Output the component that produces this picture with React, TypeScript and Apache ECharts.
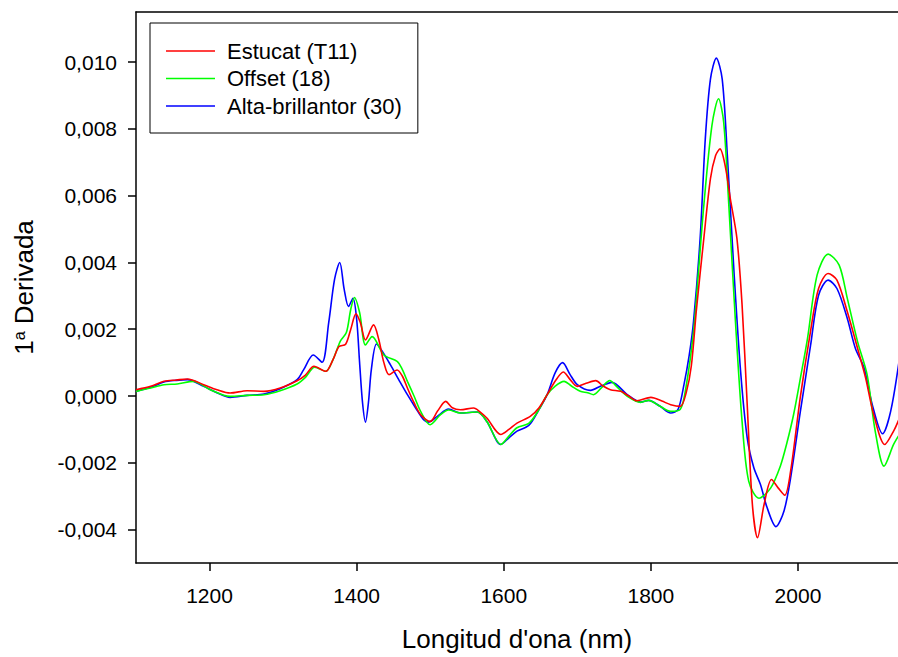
import React, { useEffect, useRef } from "react";
import * as echarts from "echarts";

// Wavelength (nm), 1st derivative value
const estucat: [number, number][] = [
  [1100, 0.00019], [1120, 0.00029], [1138, 0.00044], [1155, 0.00048], [1170, 0.00051], [1192, 0.00034],
  [1210, 0.00019], [1228, 0.00009], [1251, 0.00016], [1274, 0.00014], [1296, 0.00024], [1319, 0.00046],
  [1330, 0.00062], [1342, 0.00089], [1358, 0.00074], [1368, 0.0011], [1376, 0.00148], [1385, 0.00155],
  [1392, 0.002], [1399, 0.00246], [1405, 0.0022], [1412, 0.00168], [1423, 0.00213], [1430, 0.0017],
  [1437, 0.001], [1444, 0.00064], [1455, 0.00078], [1462, 0.0006], [1469, 0.00024], [1478, -0.0002],
  [1487, -0.00056], [1500, -0.00076], [1510, -0.00045], [1521, -0.00016], [1530, -0.00035], [1541, -0.00041],
  [1559, -0.00036], [1568, -0.00048], [1577, -0.00066], [1596, -0.00115], [1607, -0.001], [1618, -0.00081],
  [1636, -0.00061], [1648, -0.00035], [1659, 0.00004], [1670, 0.00045], [1681, 0.00072], [1690, 0.0005],
  [1700, 0.00029], [1712, 0.00038], [1725, 0.00046], [1735, 0.0003], [1745, 0.00019], [1759, 0.00014],
  [1770, 0.0], [1781, -0.00014], [1800, -0.00004], [1815, -0.00015], [1827, -0.00026], [1840, -0.00031],
  [1848, 0.0001], [1855, 0.0009], [1862, 0.0026], [1872, 0.00472], [1881, 0.00651], [1888, 0.0072],
  [1894, 0.0074], [1901, 0.0069], [1908, 0.00591], [1917, 0.00472], [1924, 0.00273], [1931, -0.00026],
  [1938, -0.00324], [1945, -0.00424], [1954, -0.00324], [1964, -0.0025], [1973, -0.00275], [1982, -0.00297],
  [1990, -0.00225], [2003, -0.00006], [2017, 0.00193], [2028, 0.00322], [2041, 0.00367], [2053, 0.00347],
  [2067, 0.00253], [2081, 0.00143], [2092, 0.00054], [2103, -0.00056], [2118, -0.00145], [2130, -0.00105],
  [2138, -0.00066],
];

const offset: [number, number][] = [
  [1100, 0.00014], [1120, 0.00024], [1138, 0.00034], [1156, 0.00036], [1178, 0.00044], [1201, 0.00019],
  [1228, -0.00001], [1251, 0.00002], [1274, 0.00004], [1296, 0.00016], [1319, 0.00036], [1330, 0.00055],
  [1343, 0.00086], [1358, 0.00074], [1368, 0.0011], [1378, 0.00165], [1386, 0.0019], [1392, 0.0026],
  [1397, 0.00295], [1404, 0.0025], [1412, 0.00153], [1421, 0.00178], [1437, 0.00123], [1455, 0.00104],
  [1462, 0.0008], [1469, 0.00044], [1478, 0.0], [1487, -0.00046], [1500, -0.00086], [1514, -0.00056],
  [1525, -0.00042], [1541, -0.00051], [1564, -0.00048], [1577, -0.00076], [1596, -0.00145], [1607, -0.0012],
  [1618, -0.00095], [1634, -0.00082], [1648, -0.0004], [1659, 0.00004], [1670, 0.0003], [1682, 0.00044],
  [1692, 0.0003], [1704, 0.00014], [1714, 0.0001], [1722, 0.00004], [1733, 0.00025], [1744, 0.00046],
  [1755, 0.00025], [1768, -0.00001], [1786, -0.00019], [1797, -0.00013], [1812, -0.0003], [1827, -0.00046],
  [1840, -0.0004], [1848, 0.0003], [1858, 0.00193], [1865, 0.0038], [1872, 0.00571], [1883, 0.0081],
  [1892, 0.0089], [1899, 0.0082], [1906, 0.00571], [1915, 0.00223], [1924, -0.00076], [1933, -0.00255],
  [1947, -0.00306], [1963, -0.00275], [1976, -0.0021], [1985, -0.0014], [1994, -0.00056], [2003, 0.0005],
  [2013, 0.00173], [2026, 0.00362], [2041, 0.00425], [2056, 0.00392], [2067, 0.00293], [2081, 0.00163],
  [2094, 0.00064], [2105, -0.00105], [2117, -0.0021], [2130, -0.00145], [2138, -0.00115],
];

const altaBrillantor: [number, number][] = [
  [1100, 0.00014], [1120, 0.00026], [1138, 0.00042], [1155, 0.00047], [1170, 0.00049], [1192, 0.00029],
  [1210, 0.0001], [1228, -0.00004], [1251, 0.00002], [1274, 0.00006], [1296, 0.00022], [1319, 0.00049],
  [1328, 0.00079], [1341, 0.00123], [1353, 0.00101], [1362, 0.0022], [1370, 0.0035], [1377, 0.004],
  [1383, 0.0032], [1389, 0.00268], [1395, 0.00293], [1400, 0.0023], [1404, 0.001], [1408, -0.0002],
  [1412, -0.00078], [1416, -0.0002], [1420, 0.0008], [1427, 0.00156], [1436, 0.0013], [1446, 0.00093],
  [1457, 0.0005], [1469, 0.00004], [1480, -0.00035], [1491, -0.00071], [1498, -0.00078], [1510, -0.0006],
  [1525, -0.00039], [1541, -0.00051], [1564, -0.00048], [1577, -0.00076], [1596, -0.00145], [1607, -0.00125],
  [1618, -0.00105], [1634, -0.00088], [1648, -0.0004], [1659, 0.00004], [1670, 0.0007], [1680, 0.001],
  [1690, 0.00065], [1700, 0.00034], [1718, 0.00017], [1732, 0.0003], [1747, 0.00041], [1768, 0.00004],
  [1786, -0.00018], [1797, -0.00013], [1812, -0.0003], [1827, -0.00051], [1837, -0.0004], [1845, 0.00034],
  [1852, 0.0012], [1858, 0.00223], [1867, 0.00472], [1874, 0.0077], [1881, 0.00949], [1889, 0.01012],
  [1897, 0.00949], [1904, 0.0072], [1913, 0.00372], [1922, 0.00074], [1931, -0.00125], [1940, -0.00215],
  [1949, -0.00265], [1958, -0.00334], [1970, -0.00391], [1981, -0.00344], [1990, -0.00245], [2003, -0.0005],
  [2010, 0.0005], [2017, 0.0015], [2028, 0.00302], [2041, 0.00347], [2053, 0.00322], [2067, 0.00233],
  [2078, 0.00143], [2090, 0.00084], [2101, -0.00026], [2115, -0.00113], [2126, -0.00046], [2138, 0.00113],
];

const seriesNames = ["Estucat (T11)", "Offset (18)", "Alta-brillantor (30)"];
const seriesColors = ["#ff0000", "#00ff00", "#0000ff"];
const xTicks = [1200, 1400, 1600, 1800, 2000];
const yTicks = [-0.004, -0.002, 0, 0.002, 0.004, 0.006, 0.008, 0.01];

const FONT = "'Liberation Sans', Arial, Helvetica, sans-serif";

export default function App() {
  const ref = useRef<HTMLDivElement>(null);
  useEffect(() => {
    if (!ref.current) return;
    const chart = echarts.init(ref.current, undefined, { renderer: "svg" });
    const datasets = [estucat, offset, altaBrillantor];
    const axisLine = { show: true, onZero: false, lineStyle: { color: "#000", width: 1.5 } };
    chart.setOption({
      animation: false,
      backgroundColor: "#fff",
      textStyle: { fontFamily: FONT },
      grid: { left: 136, top: 12, right: 0, bottom: 91, containLabel: false },
      legend: {
        data: seriesNames.map((n) => ({ name: n, icon: "rect" })),
        orient: "vertical",
        left: 150,
        top: 23,
        padding: [17, 16, 16, 16],
        itemWidth: 49,
        itemHeight: 1.5,
        itemGap: 5.5,
        borderColor: "#000",
        borderWidth: 1,
        backgroundColor: "#fff",
        textStyle: { fontFamily: FONT, fontSize: 22, color: "#000", padding: [0, 0, 0, 7] },
      },
      xAxis: [
        {
          type: "value",
          position: "bottom",
          min: 1100,
          max: 2136,
          name: "Longitud d'ona (nm)",
          nameLocation: "middle",
          nameGap: 63,
          nameTextStyle: { fontFamily: FONT, fontSize: 26, color: "#000" },
          axisLine,
          axisTick: { show: true, length: 8, lineStyle: { color: "#000", width: 1.5 }, customValues: xTicks },
          axisLabel: { fontFamily: FONT, fontSize: 21, color: "#000", margin: 22, customValues: xTicks, formatter: (v: number) => String(v) },
          splitLine: { show: false },
        },
        {
          type: "value",
          position: "top",
          min: 1100,
          max: 2136,
          axisLine,
          axisTick: { show: false },
          axisLabel: { show: false },
          splitLine: { show: false },
        },
      ],
      yAxis: {
        type: "value",
        min: -0.005,
        max: 0.0115,
        name: "{m|1}{s|a}{m| Derivada}",
        nameLocation: "middle",
        nameGap: 99,
        nameTextStyle: {
          fontFamily: FONT,
          color: "#000",
          rich: {
            m: { fontFamily: FONT, fontSize: 26, color: "#000" },
            s: { fontFamily: FONT, fontSize: 16, color: "#000", verticalAlign: "top" },
          },
        },
        axisLine,
        axisTick: { show: true, length: 8, lineStyle: { color: "#000", width: 1.5 }, customValues: yTicks },
        axisLabel: {
          fontFamily: FONT,
          fontSize: 21,
          color: "#000",
          margin: 19,
          customValues: yTicks,
          formatter: (v: number) => v.toFixed(3).replace(".", ","),
        },
        splitLine: { show: false },
      },
      series: datasets.map((d, i) => ({
        name: seriesNames[i],
        type: "line",
        data: d,
        xAxisIndex: 0,
        showSymbol: false,
        smooth: 0.3,
        clip: true,
        lineStyle: { color: seriesColors[i], width: 1.6 },
        itemStyle: { color: seriesColors[i] },
        z: 5 - i,
      })),
    });
    return () => chart.dispose();
  }, []);
  return <div ref={ref} style={{ position: "fixed", left: 0, top: 0, width: 898, height: 657 }} />;
}
